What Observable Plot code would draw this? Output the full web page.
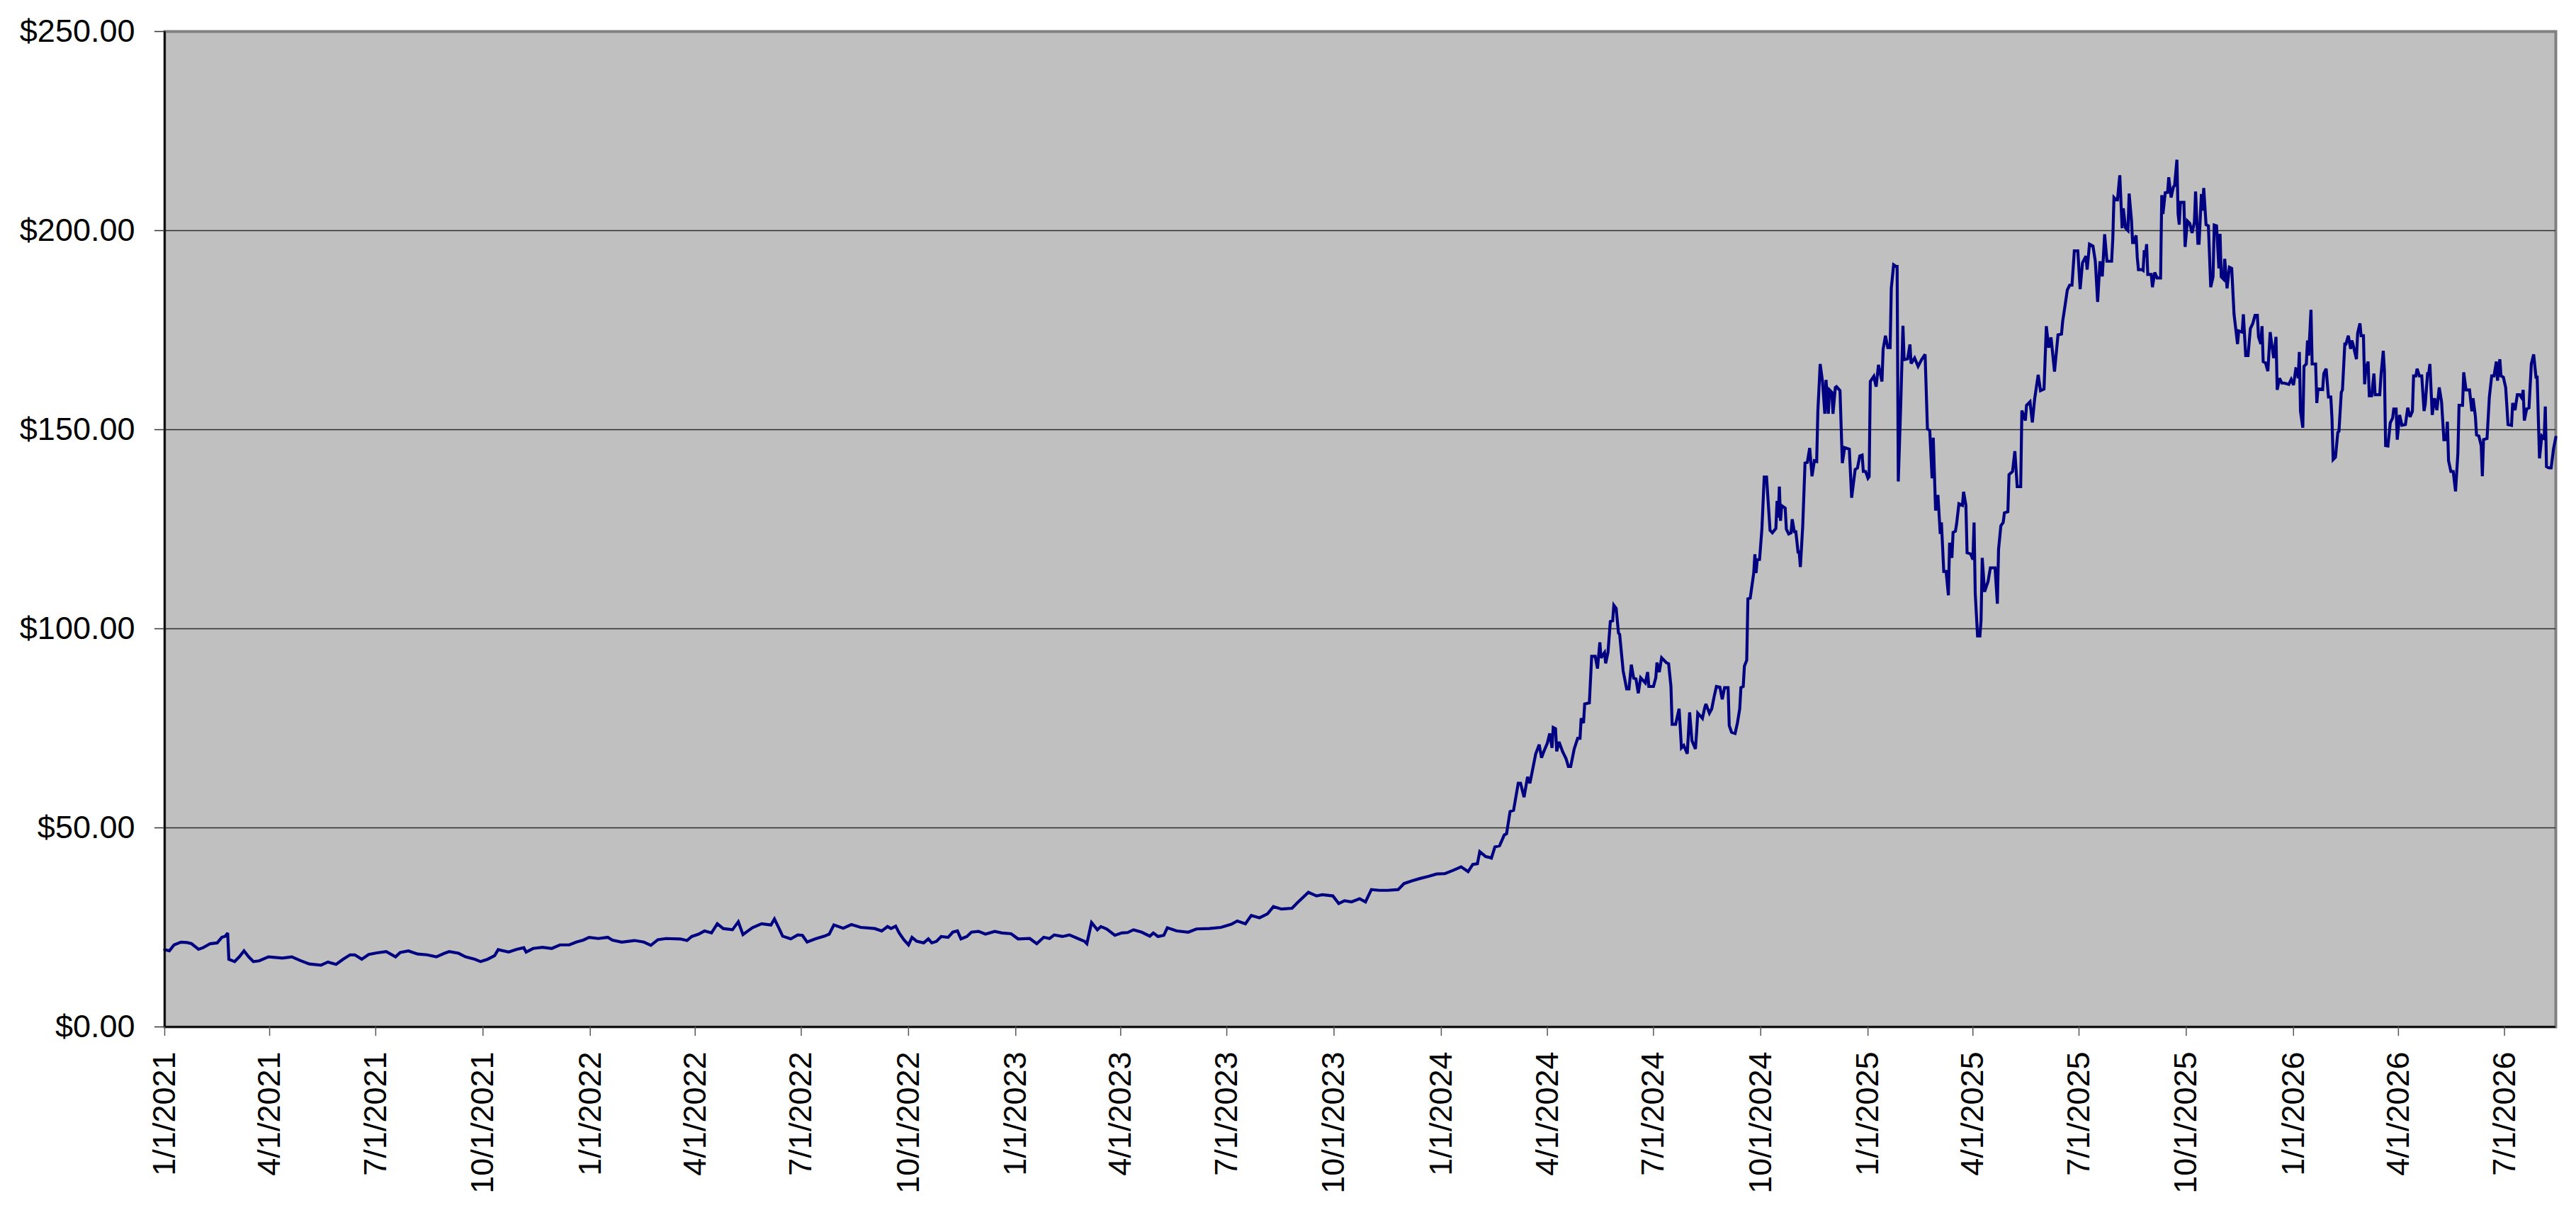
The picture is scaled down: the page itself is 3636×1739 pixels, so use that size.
<!DOCTYPE html>
<html>
<head>
<meta charset="utf-8">
<script src="https://cdn.jsdelivr.net/npm/d3@7"></script>
<script src="https://cdn.jsdelivr.net/npm/@observablehq/plot@0.6"></script>
<style>
  html, body { margin: 0; padding: 0; background: #ffffff; }
  #chart { width: 3636px; height: 1739px; }
</style>
</head>
<body>
<div id="chart"></div>
<script>
// ---- Data ----
const xTickLabels = ["1/1/2021","4/1/2021","7/1/2021","10/1/2021","1/1/2022","4/1/2022","7/1/2022","10/1/2022",
  "1/1/2023","4/1/2023","7/1/2023","10/1/2023","1/1/2024","4/1/2024","7/1/2024","10/1/2024",
  "1/1/2025","4/1/2025","7/1/2025","10/1/2025","1/1/2026","4/1/2026","7/1/2026"];
const yTicks = [0, 50, 100, 150, 200, 250];

const prices2021 = [
["2021-01-01",19.4],["2021-01-05",19.1],["2021-01-09",20.6],["2021-01-15",21.3],["2021-01-20",21.2],["2021-01-24",20.9],
["2021-01-30",19.5],["2021-02-03",19.9],["2021-02-09",20.9],["2021-02-15",21.1],["2021-02-19",22.5],["2021-02-22",22.8],
["2021-02-24",23.6],["2021-02-25",17.0],["2021-03-02",16.4],["2021-03-06",17.6],["2021-03-10",19.1],["2021-03-14",17.6],
["2021-03-18",16.4],["2021-03-23",16.6],["2021-03-31",17.6],["2021-04-12",17.3],["2021-04-20",17.6],["2021-04-27",16.7],
["2021-05-05",15.8],["2021-05-15",15.5],["2021-05-21",16.3],["2021-05-28",15.7],["2021-06-03",17.0],["2021-06-09",18.1],
["2021-06-13",18.1],["2021-06-19",17.0],["2021-06-25",18.2],["2021-07-02",18.6],["2021-07-10",18.9],["2021-07-18",17.6],
["2021-07-22",18.7],["2021-07-29",19.1],["2021-08-06",18.3],["2021-08-14",18.1],["2021-08-22",17.6],["2021-08-29",18.5],
["2021-09-02",18.9],["2021-09-10",18.5],["2021-09-16",17.6],["2021-09-24",17.0],["2021-09-29",16.4],["2021-10-05",17.0],
["2021-10-11",17.9],["2021-10-14",19.4],["2021-10-23",18.8],["2021-10-30",19.5],["2021-11-05",19.9],["2021-11-07",18.8],
["2021-11-13",19.7],["2021-11-21",20.0],["2021-11-29",19.7],["2021-12-06",20.6],["2021-12-14",20.6],["2021-12-20",21.3],
["2021-12-26",21.8],["2021-12-31",22.5]
];
const prices2022 = [
["2022-01-08",22.2],["2022-01-16",22.5],["2022-01-20",21.8],["2022-01-28",21.3],["2022-02-08",21.7],["2022-02-16",21.3],
["2022-02-22",20.5],["2022-02-28",21.9],["2022-03-07",22.2],["2022-03-19",22.1],["2022-03-25",21.7],["2022-03-29",22.7],
["2022-04-04",23.3],["2022-04-09",24.1],["2022-04-15",23.6],["2022-04-20",25.9],["2022-04-25",24.7],["2022-05-03",24.4],
["2022-05-08",26.4],["2022-05-12",23.2],["2022-05-20",24.9],["2022-05-28",25.9],["2022-06-05",25.6],["2022-06-08",27.1],
["2022-06-12",24.7],["2022-06-15",22.8],["2022-06-22",22.1],["2022-06-28",23.1],["2022-07-02",23.0],["2022-07-06",21.3],
["2022-07-13",22.1],["2022-07-21",22.8],["2022-07-25",23.3],["2022-07-29",25.6],["2022-08-06",24.8],["2022-08-13",25.7],
["2022-08-21",25.0],["2022-09-02",24.7],["2022-09-08",24.1],["2022-09-13",25.2],["2022-09-16",24.7],["2022-09-20",25.3],
["2022-09-23",23.6],["2022-09-27",21.9],["2022-10-01",20.6],["2022-10-04",22.5],["2022-10-08",21.5],["2022-10-14",21.1],
["2022-10-18",22.1],["2022-10-21",21.1],["2022-10-25",21.5],["2022-10-29",22.7],["2022-11-04",22.5],["2022-11-08",23.8],
["2022-11-12",24.1],["2022-11-15",22.1],["2022-11-20",22.7],["2022-11-24",23.8],["2022-11-30",24.0],["2022-12-06",23.3],
["2022-12-14",24.0],["2022-12-20",23.6],["2022-12-28",23.4]
];
const prices2023 = [
["2023-01-03",22.1],["2023-01-13",22.2],["2023-01-19",20.9],["2023-01-25",22.5],["2023-01-30",22.2],["2023-02-03",23.1],
["2023-02-10",22.7],["2023-02-16",23.1],["2023-02-24",22.1],["2023-03-01",21.5],["2023-03-03",20.9],["2023-03-07",26.2],
["2023-03-12",24.4],["2023-03-15",25.2],["2023-03-20",24.6],["2023-03-27",23.0],["2023-04-02",23.6],["2023-04-07",23.7],
["2023-04-12",24.4],["2023-04-19",23.8],["2023-04-26",22.8],["2023-04-29",23.6],["2023-05-03",22.7],["2023-05-08",23.0],
["2023-05-11",24.9],["2023-05-19",24.1],["2023-05-29",23.8],["2023-06-05",24.6],["2023-06-16",24.7],["2023-06-26",25.0],
["2023-07-05",25.8],["2023-07-10",26.6],["2023-07-17",25.9],["2023-07-22",28.0],["2023-07-29",27.4],["2023-08-05",28.4],
["2023-08-10",30.2],["2023-08-17",29.6],["2023-08-26",29.8],["2023-08-31",31.3],["2023-09-09",33.8],["2023-09-16",32.9],
["2023-09-21",33.2],["2023-09-30",32.9],["2023-10-05",31.0],["2023-10-10",31.7],["2023-10-16",31.4],["2023-10-23",32.2],
["2023-10-28",31.4],["2023-11-02",34.5],["2023-11-09",34.3],["2023-11-16",34.3],["2023-11-25",34.5],["2023-11-30",36.0],
["2023-12-07",36.7],["2023-12-14",37.3],["2023-12-21",37.8],["2023-12-28",38.4]
];
const prices2024 = [
["2024-01-04",38.5],["2024-01-11",39.3],["2024-01-18",40.2],["2024-01-24",39.0],["2024-01-28",40.8],["2024-02-01",41.0],
["2024-02-03",44.0],["2024-02-08",42.8],["2024-02-11",42.6],["2024-02-13",42.4],["2024-02-16",45.2],["2024-02-20",45.5],
["2024-02-24",48.2],["2024-02-26",48.5],["2024-02-29",54.1],["2024-03-03",54.4],["2024-03-07",61.2],["2024-03-09",61.2],
["2024-03-12",57.7],["2024-03-15",62.8],["2024-03-17",61.2],["2024-03-22",68.6],["2024-03-25",70.9],["2024-03-27",67.6],
["2024-03-29",69.2],["2024-04-01",71.3],["2024-04-03",73.7],["2024-04-05",70.1],["2024-04-06",75.2],["2024-04-08",74.9],
["2024-04-09",69.2],["2024-04-11",71.6],["2024-04-14",69.2],["2024-04-17",67.4],["2024-04-19",65.4],["2024-04-21",65.4],
["2024-04-24",69.8],["2024-04-27",72.5],["2024-04-29",72.5],["2024-04-30",77.5],["2024-05-02",76.3],["2024-05-03",81.1],
["2024-05-07",81.4],["2024-05-09",93.1],["2024-05-12",93.1],["2024-05-14",90.0],["2024-05-16",96.6],["2024-05-17",92.7],
["2024-05-20",94.0],["2024-05-21",91.3],["2024-05-23",94.1],["2024-05-25",101.8],["2024-05-27",102.0],["2024-05-28",105.9],
["2024-05-30",105.1],["2024-06-01",98.9],["2024-06-02",98.6],["2024-06-05",89.4],["2024-06-08",84.9],["2024-06-10",84.9],
["2024-06-12",91.0],["2024-06-14",87.6],["2024-06-16",87.4],["2024-06-18",83.8],["2024-06-20",87.7],["2024-06-24",86.4],
["2024-06-26",89.1],["2024-06-27",85.5],["2024-07-01",85.5],["2024-07-03",87.7],["2024-07-04",91.5],["2024-07-06",89.1],
["2024-07-08",92.7],["2024-07-12",91.5],["2024-07-14",91.2],["2024-07-16",85.5],["2024-07-17",76.0],["2024-07-20",76.0],
["2024-07-23",79.9],["2024-07-25",70.1],["2024-07-27",70.7],["2024-07-30",68.6],["2024-08-01",79.0],["2024-08-03",71.9],
["2024-08-06",69.8],["2024-08-07",74.0],["2024-08-08",78.8],["2024-08-12",77.5],["2024-08-14",80.2],["2024-08-15",81.1],
["2024-08-18",78.8],["2024-08-20",79.9],["2024-08-22",82.9],["2024-08-24",85.5],["2024-08-27",85.3],["2024-08-29",82.3],
["2024-08-31",85.2],["2024-09-03",85.2],["2024-09-04",75.7],["2024-09-06",74.0],["2024-09-09",73.7],["2024-09-11",76.3],
["2024-09-13",79.9],["2024-09-14",85.2],["2024-09-16",85.5],["2024-09-17",90.6],["2024-09-19",92.1],["2024-09-20",107.5],
["2024-09-22",107.7],["2024-09-24",111.9],["2024-09-25",114.0],["2024-09-26",118.7],["2024-09-27",114.0],["2024-09-28",117.3],
["2024-09-30",117.4],["2024-10-02",125.0],["2024-10-04",138.1],["2024-10-06",138.1],["2024-10-09",124.7],["2024-10-11",124.1],
["2024-10-14",125.2],["2024-10-15",132.1],["2024-10-16",127.9],["2024-10-17",135.7],["2024-10-18",127.1],["2024-10-19",130.9],
["2024-10-22",130.3],["2024-10-23",125.0],["2024-10-25",123.8],["2024-10-27",124.1],["2024-10-28",127.5],["2024-10-30",124.1],
["2024-10-31",124.7],["2024-11-02",119.3],["2024-11-03",119.3],["2024-11-04",115.5],["2024-11-06",125.6],["2024-11-08",141.6],
["2024-11-10",141.8],["2024-11-12",145.4],["2024-11-14",138.3],["2024-11-16",142.2],["2024-11-18",142.0],["2024-11-19",154.6],
["2024-11-21",166.5],["2024-11-23",162.1],["2024-11-25",154.0],["2024-11-26",162.5],["2024-11-28",154.0],["2024-11-29",160.0],
["2024-12-01",159.4],["2024-12-02",154.0],["2024-12-04",160.6],["2024-12-05",160.8],["2024-12-08",159.8],["2024-12-10",141.6],
["2024-12-12",145.5],["2024-12-16",145.1],["2024-12-18",132.9],["2024-12-21",140.0],["2024-12-23",140.4],["2024-12-25",143.4],
["2024-12-27",143.6],["2024-12-28",139.5],["2024-12-30",139.5]
];
const prices2025 = [
["2025-01-01",137.8],["2025-01-02",138.2],["2025-01-03",162.1],["2025-01-06",163.4],["2025-01-08",160.8],["2025-01-10",166.3],
["2025-01-13",162.1],["2025-01-14",170.2],["2025-01-16",173.6],["2025-01-18",170.6],["2025-01-20",170.6],["2025-01-21",185.5],
["2025-01-23",191.4],["2025-01-25",191.0],["2025-01-26",191.0],["2025-01-27",137.0],["2025-01-29",155.3],["2025-01-31",176.1],
["2025-02-01",167.6],["2025-02-04",167.8],["2025-02-06",171.4],["2025-02-07",166.6],["2025-02-10",168.0],["2025-02-13",165.9],
["2025-02-16",167.6],["2025-02-19",168.9],["2025-02-21",150.2],["2025-02-23",149.8],["2025-02-25",137.8],["2025-02-26",148.0],
["2025-02-28",129.7],["2025-03-02",133.6],["2025-03-04",123.8],["2025-03-05",126.7],["2025-03-07",114.4],["2025-03-09",114.4],
["2025-03-11",108.4],["2025-03-12",121.6],["2025-03-14",117.8],["2025-03-15",124.2],["2025-03-17",124.5],["2025-03-18",126.3],
["2025-03-20",131.4],["2025-03-23",131.0],["2025-03-24",134.4],["2025-03-26",131.0],["2025-03-27",119.1],["2025-03-30",118.8],
["2025-04-01",117.4],["2025-04-02",126.7],["2025-04-03",108.9],["2025-04-05",98.2],["2025-04-07",98.2],["2025-04-08",102.1],
["2025-04-09",117.8],["2025-04-11",109.3],["2025-04-14",111.9],["2025-04-16",115.3],["2025-04-20",115.3],["2025-04-22",106.3],
["2025-04-23",119.9],["2025-04-25",125.9],["2025-04-27",126.7],["2025-04-28",129.1],["2025-05-01",129.4],["2025-05-02",138.7],
["2025-05-05",139.5],["2025-05-07",144.6],["2025-05-09",135.7],["2025-05-12",135.7],["2025-05-13",154.8],["2025-05-16",152.3],
["2025-05-17",156.1],["2025-05-20",157.0],["2025-05-22",151.8],["2025-05-24",157.8],["2025-05-27",163.8],["2025-05-29",159.8],
["2025-06-01",160.2],["2025-06-03",176.0],["2025-06-05",170.6],["2025-06-07",173.2],["2025-06-10",164.6],["2025-06-13",173.8],
["2025-06-16",174.0],["2025-06-17",177.2],["2025-06-19",181.1],["2025-06-21",185.1],["2025-06-23",186.3],["2025-06-25",186.3],
["2025-06-27",194.9],["2025-06-30",194.9],["2025-07-02",185.3],["2025-07-04",191.9],["2025-07-07",193.6],["2025-07-08",190.2],
["2025-07-10",196.6],["2025-07-13",196.1],["2025-07-15",192.3],["2025-07-17",182.1],["2025-07-19",192.3],["2025-07-21",188.5],
["2025-07-23",199.1],["2025-07-25",192.3],["2025-07-29",192.3],["2025-07-30",197.9],["2025-07-31",208.3],["2025-08-02",207.7],
["2025-08-03",207.7],["2025-08-05",213.9],["2025-08-07",200.6],["2025-08-08",205.6],["2025-08-10",200.6],["2025-08-12",200.0],
["2025-08-13",209.3],["2025-08-15",202.7],["2025-08-16",197.0],["2025-08-17",197.0],["2025-08-19",198.8],["2025-08-20",193.2],
["2025-08-21",190.2],["2025-08-24",190.2],["2025-08-25",190.0],["2025-08-26",195.1],["2025-08-27",193.5],["2025-08-28",196.6],
["2025-08-29",189.0],["2025-09-01",189.0],["2025-09-02",185.8],["2025-09-04",189.5],["2025-09-06",188.1],["2025-09-09",188.1],
["2025-09-10",208.9],["2025-09-11",204.2],["2025-09-13",209.5],["2025-09-15",209.6],["2025-09-16",213.4],["2025-09-18",208.3],
["2025-09-20",211.0],["2025-09-21",211.3],["2025-09-23",217.8],["2025-09-24",204.2],["2025-09-25",201.5],["2025-09-26",207.1],
["2025-09-29",207.1],["2025-09-30",195.9],["2025-10-02",202.4],["2025-10-04",201.8],["2025-10-06",199.4],["2025-10-08",202.1],
["2025-10-09",209.8],["2025-10-11",196.8],["2025-10-12",196.8],["2025-10-14",209.2],["2025-10-15",205.0],["2025-10-16",210.7],
["2025-10-18",201.5],["2025-10-20",201.2],["2025-10-22",185.8],["2025-10-24",188.4],["2025-10-25",201.4],["2025-10-27",201.2],
["2025-10-29",190.5],["2025-10-30",199.2],["2025-10-31",188.4],["2025-11-02",187.8],["2025-11-03",192.9],["2025-11-05",185.5],
["2025-11-07",190.8],["2025-11-09",190.5],["2025-11-11",179.0],["2025-11-14",171.5],["2025-11-15",174.8],["2025-11-18",174.5],
["2025-11-19",179.0],["2025-11-21",168.6],["2025-11-23",168.6],["2025-11-25",175.4],["2025-11-27",176.6],["2025-11-29",178.7],
["2025-12-01",178.7],["2025-12-02",173.3],["2025-12-04",171.5],["2025-12-05",176.0],["2025-12-06",167.1],["2025-12-08",166.8],
["2025-12-10",164.7],["2025-12-12",174.5],["2025-12-13",172.1],["2025-12-15",168.0],["2025-12-17",173.3],["2025-12-18",160.0],
["2025-12-20",162.9],["2025-12-22",161.7],["2025-12-24",161.7],["2025-12-28",161.4],["2025-12-30",162.6]
];
const prices2026 = [
["2026-01-01",161.2],["2026-01-03",165.3],["2026-01-04",165.2],["2026-01-05",162.9],["2026-01-06",169.5],["2026-01-07",154.6],
["2026-01-09",150.5],["2026-01-10",165.9],["2026-01-12",166.5],["2026-01-13",172.4],["2026-01-14",168.6],["2026-01-16",180.1],
["2026-01-17",166.5],["2026-01-20",166.5],["2026-01-21",156.7],["2026-01-22",160.3],["2026-01-26",160.1],["2026-01-27",164.1],
["2026-01-29",165.3],["2026-01-31",158.2],["2026-02-02",158.2],["2026-02-03",152.9],["2026-02-04",142.5],["2026-02-06",143.1],
["2026-02-08",149.3],["2026-02-09",149.6],["2026-02-11",159.4],["2026-02-12",160.0],["2026-02-14",171.5],["2026-02-15",171.5],
["2026-02-17",173.6],["2026-02-19",170.3],["2026-02-20",172.4],["2026-02-21",171.5],["2026-02-24",167.7],["2026-02-25",174.2],
["2026-02-27",176.7],["2026-02-28",173.6],["2026-03-02",173.6],["2026-03-03",161.4],["2026-03-04",165.3],["2026-03-06",167.1],
["2026-03-07",158.5],["2026-03-09",158.5],["2026-03-11",164.1],["2026-03-12",158.8],["2026-03-14",158.8],["2026-03-16",158.8],
["2026-03-17",163.5],["2026-03-19",169.8],["2026-03-20",164.7],["2026-03-21",146.0],["2026-03-23",145.9],["2026-03-25",151.7],
["2026-03-27",152.9],["2026-03-28",155.2],["2026-03-30",155.2],["2026-03-31",147.5],["2026-04-02",153.7],["2026-04-04",151.1],
["2026-04-07",151.3],["2026-04-09",155.5],["2026-04-11",153.2],["2026-04-13",154.6],["2026-04-14",163.5],["2026-04-16",163.5],
["2026-04-17",165.3],["2026-04-19",163.5],["2026-04-21",163.5],["2026-04-23",154.7],["2026-04-24",156.4],["2026-04-26",164.1],
["2026-04-27",164.1],["2026-04-28",166.5],["2026-04-30",153.7],["2026-05-02",157.9],["2026-05-04",154.9],["2026-05-06",160.6],
["2026-05-08",157.0],["2026-05-10",147.5],["2026-05-12",147.5],["2026-05-13",152.0],["2026-05-14",142.2],["2026-05-16",139.5],
["2026-05-18",139.5],["2026-05-20",134.5],["2026-05-22",144.0],["2026-05-23",156.1],["2026-05-26",156.1],["2026-05-27",164.4],
["2026-05-29",160.0],["2026-06-01",160.0],["2026-06-03",154.6],["2026-06-04",157.9],["2026-06-06",153.4],["2026-06-07",148.7],
["2026-06-09",148.4],["2026-06-11",146.0],["2026-06-12",138.3],["2026-06-13",147.5],["2026-06-16",147.8],["2026-06-18",158.2],
["2026-06-20",163.5],["2026-06-22",163.5],["2026-06-24",167.1],["2026-06-25",162.3],["2026-06-27",167.7],["2026-06-28",163.5],
["2026-06-30",163.2],["2026-07-02",160.6],["2026-07-04",151.3],["2026-07-07",151.1],["2026-07-08",156.7],["2026-07-10",154.9],
["2026-07-12",158.8],["2026-07-14",158.8],["2026-07-16",157.9],["2026-07-17",160.0],["2026-07-18",152.3],["2026-07-20",155.2],
["2026-07-22",155.5],["2026-07-24",166.5],["2026-07-26",168.9],["2026-07-28",163.2],["2026-07-29",163.2],["2026-07-31",142.8],
["2026-08-02",148.4],["2026-08-04",147.8],["2026-08-05",155.8],["2026-08-06",140.7],["2026-08-08",140.4],["2026-08-10",140.4],
["2026-08-12",145.1],["2026-08-13",146.6],["2026-08-14",148.1]
];

// ---- Build table for Plot ----
const data = [...prices2021, ...prices2022, ...prices2023, ...prices2024, ...prices2025, ...prices2026]
  .map(([d, v]) => ({date: new Date(d + "T00:00:00Z"), price: v}));

const parseTick = d3.utcParse("%m/%d/%Y");
const xTicks = xTickLabels.map(parseTick);
const xLabelByTime = new Map(xTicks.map((t, i) => [+t, xTickLabels[i]]));
const xDomain = [data[0].date, data[data.length - 1].date];
const gridValues = yTicks.filter(v => v > yTicks[0] && v < yTicks[yTicks.length - 1]);

const chart = Plot.plot({
  width: 3636,
  height: 1739,
  marginLeft: 232,
  marginRight: 29,
  marginTop: 44,
  marginBottom: 290,
  style: {
    fontFamily: "'Liberation Sans', Arial, Helvetica, sans-serif",
    fontSize: "45px",
    color: "#000000",
    background: "#ffffff",
    overflow: "visible"
  },
  x: {type: "utc", domain: xDomain},
  y: {domain: [yTicks[0], yTicks[yTicks.length - 1]]},
  marks: [
    Plot.frame({fill: "#C0C0C0", stroke: "#808080", strokeWidth: 4}),
    Plot.ruleY(gridValues, {stroke: "#2e2e2e", strokeWidth: 1.4}),
    Plot.line(data, {x: "date", y: "price", stroke: "#000080", strokeWidth: 4.2, strokeLinejoin: "miter", strokeMiterlimit: 3}),
    Plot.ruleY([yTicks[0]], {stroke: "#000000", strokeWidth: 2.5}),
    Plot.ruleX([xDomain[0]], {stroke: "#000000", strokeWidth: 2.5}),
    Plot.axisY({
      ticks: yTicks,
      tickFormat: v => "$" + v.toFixed(2),
      tickSize: 14,
      tickPadding: 28,
      stroke: "#333333",
      strokeWidth: 1.5,
      label: null
    }),
    Plot.axisX({
      ticks: xTicks,
      tickFormat: d => xLabelByTime.get(+d),
      tickRotate: -90,
      tickSize: 13,
      tickPadding: 22,
      stroke: "#555555",
      strokeWidth: 1.5,
      label: null
    })
  ]
});

document.getElementById("chart").appendChild(chart);
</script>
</body>
</html>
